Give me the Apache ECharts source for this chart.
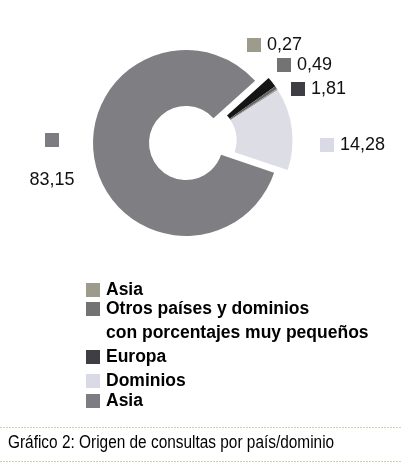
<!DOCTYPE html>
<html>
<head>
<meta charset="utf-8">
<script src="https://cdn.jsdelivr.net/npm/echarts@6/dist/echarts.min.js"></script>
<style>
html,body{margin:0;padding:0;background:#fff;}
#c{width:402px;height:464px;}
</style>
</head>
<body>
<div id="c"></div>
<script>
// ---- data (legend order) ----
const categories = ['Asia', 'Otros países y dominios\ncon porcentajes muy pequeños', 'Europa', 'Dominios', 'Asia'];
const values = [0.27, 0.49, 1.81, 14.28, 83.15];
const caption = 'Gráfico 2: Origen de consultas por país/dominio';

// ---- styling / layout (kept separate from data) ----
const pieOrder = [2, 1, 0, 3, 4];            // clockwise drawing order
const mainIndex = 4;                         // the non-exploded slice
const sliceColors = ['#9b9b95', '#646464', '#151515', '#dddde6', '#7f7e82'];
const squareColors = ['#9c9b8c', '#747373', '#3e3e44', '#dadae6', '#7d7c82'];
const valueLabelPos = [[247, 45], [277, 65], [291, 89], [320, 145], [52, 120]];
const legendRowY = [290, 309, 357, 381, 401];

const fmt = v => v.toFixed(2).replace('.', ',');

const rich = { v: { fontSize: 18, fontFamily: 'Liberation Sans, Arial', color: '#111', padding: [0, 0, 0, 6] },
               vc: { fontSize: 18, fontFamily: 'Liberation Sans, Arial', color: '#111', lineHeight: 40 } };
squareColors.forEach((c, k) => {
  rich['sq' + k] = { width: 14, height: 14, backgroundColor: c };
  rich['sqc' + k] = { width: 14, height: 14, backgroundColor: c, lineHeight: 40 };
});

function pieData(exploded) {
  return pieOrder.map(k => {
    const visible = exploded ? k !== mainIndex : k === mainIndex;
    return { value: values[k], name: 'd' + k, itemStyle: { color: visible ? sliceColors[k] : 'rgba(0,0,0,0)' } };
  });
}

const common = {
  type: 'pie', radius: [37, 93], startAngle: 42, clockwise: true,
  avoidLabelOverlap: false, animation: false, silent: true,
  emphasis: { disabled: true }, labelLine: { show: false }
};

const graphics = [];
categories.forEach((name, k) => {
  const y = legendRowY[k];
  graphics.push({ type: 'rect', shape: { x: 86, y: y - 7, width: 14, height: 14 }, style: { fill: squareColors[k] } });
  graphics.push({ type: 'text', x: 106, y: y - 12,
    style: { text: name, fontSize: 17.5, fontWeight: 'bold', fontFamily: 'Liberation Sans, Arial', fill: '#000',
             lineHeight: 24, verticalAlign: 'top', align: 'left' } });
});
graphics.push({ type: 'line', shape: { x1: 0, y1: 427.5, x2: 402, y2: 427.5 }, style: { stroke: '#cfcfb4', lineWidth: 1, lineDash: [2, 1] } });
graphics.push({ type: 'line', shape: { x1: 0, y1: 461.5, x2: 402, y2: 461.5 }, style: { stroke: '#cfcfb4', lineWidth: 1, lineDash: [2, 1] } });
graphics.push({ type: 'text', x: 8, y: 443, scaleX: 0.88,
  style: { text: caption, fontSize: 17.5, fontFamily: 'Liberation Sans, Arial', fill: '#000', verticalAlign: 'middle' } });

const chart = echarts.init(document.getElementById('c'), null, { renderer: 'canvas' });
chart.setOption({
  animation: false,
  backgroundColor: '#fff',
  series: [
    Object.assign({}, common, {
      center: [186, 143],
      data: pieData(false),
      label: {
        show: true, position: 'outside', rich: rich,
        formatter: p => {
          const k = pieOrder[p.dataIndex];
          return k === mainIndex ? '{sqc' + k + '|}\n{vc|' + fmt(values[k]) + '}' : '{sq' + k + '|}{v|' + fmt(values[k]) + '}';
        }
      },
      labelLayout: p => {
        const k = pieOrder[p.dataIndex];
        const pos = valueLabelPos[k];
        return k === mainIndex
          ? { x: pos[0], y: pos[1], align: 'center', verticalAlign: 'top', hideOverlap: false }
          : { x: pos[0], y: pos[1], align: 'left', verticalAlign: 'middle', hideOverlap: false };
      }
    }),
    Object.assign({}, common, {
      center: [199.5, 140.3],
      data: pieData(true),
      label: { show: false }
    })
  ],
  graphic: graphics
});
</script>
</body>
</html>
